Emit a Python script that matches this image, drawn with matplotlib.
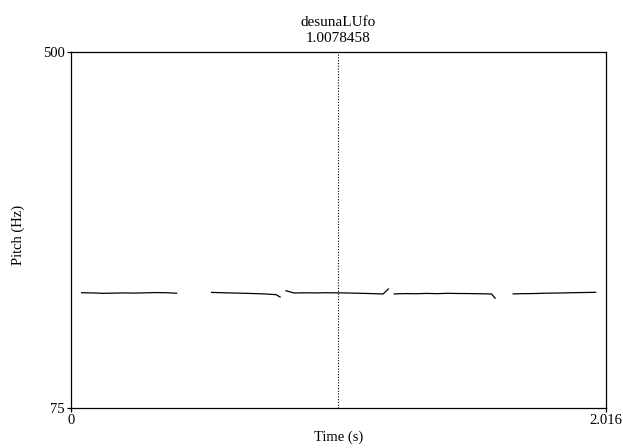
import matplotlib
matplotlib.use("Agg")
import matplotlib.pyplot as plt
import numpy as np

# pitch contour pieces (time in s, f0 in Hz), gaps are unvoiced parts
seg_times = [
    [0.040, 0.080, 0.120, 0.160, 0.200, 0.240, 0.280, 0.320, 0.360, 0.398],
    [0.530, 0.570, 0.610, 0.650, 0.690, 0.730, 0.773, 0.788],
    [0.810, 0.840, 0.880, 0.920, 0.960, 1.000, 1.040, 1.080, 1.120, 1.150, 1.176, 1.196],
    [1.218, 1.260, 1.300, 1.340, 1.380, 1.420, 1.460, 1.500, 1.540, 1.585, 1.598],
    [1.666, 1.700, 1.740, 1.780, 1.820, 1.860, 1.900, 1.940, 1.977],
]
seg_pitch = [
    [212.6, 212.4, 211.9, 212.1, 212.4, 212.2, 212.5, 212.8, 212.6, 212.0],
    [213.0, 212.6, 212.3, 212.0, 211.6, 211.2, 210.3, 207.5],
    [215.0, 212.3, 212.5, 212.4, 212.6, 212.5, 212.3, 212.0, 211.7, 211.4, 211.1, 217.1],
    [211.2, 211.6, 211.4, 211.8, 211.5, 211.9, 211.7, 211.6, 211.4, 211.1, 206.0],
    [211.2, 211.5, 211.6, 212.0, 212.2, 212.4, 212.7, 212.9, 213.1],
]

cursor = 1.0078458
x_ticks = [0, 2.016]
y_ticks = [75, 500]
label = "desunaLUfo"

plt.rcParams['font.family'] = ['Liberation Serif', 'DejaVu Serif']
plt.rcParams['font.size'] = 10

fig = plt.figure(figsize=(6.23, 4.48), dpi=100)
ax = fig.add_axes([71 / 623, 1 - 408 / 448, 535 / 623, 356 / 448])

for t, f in zip(seg_times, seg_pitch):
    ax.plot(t, f, color='black', lw=0.9)

ax.axvline(cursor, color='black', lw=0.8, ls=(0, (1, 1.5)))

ax.set_xlim(x_ticks[0], x_ticks[1])
ax.set_ylim(y_ticks[0], y_ticks[1])
ax.set_xticks(x_ticks)
ax.set_xticklabels(['0', '2.016'])
ax.set_yticks(y_ticks)
ax.set_yticklabels(['75', '500'])
ax.tick_params(direction='out', length=3, width=0.9, pad=1.5, labelsize=10.5)
for s in ax.spines.values():
    s.set_linewidth(0.9)

ax.set_xlabel('Time (s)', labelpad=2, fontsize=10.5)
ax.set_ylabel('Pitch (Hz)', fontsize=10.5)
ax.yaxis.set_label_coords(-0.086, 0.486)

ax.text(cursor, 1.02, label + '\n' + '%.7f' % cursor, transform=ax.get_xaxis_transform(),
        ha='center', va='bottom', linespacing=1.25, fontsize=11)

fig.savefig('out.png', dpi=100)
